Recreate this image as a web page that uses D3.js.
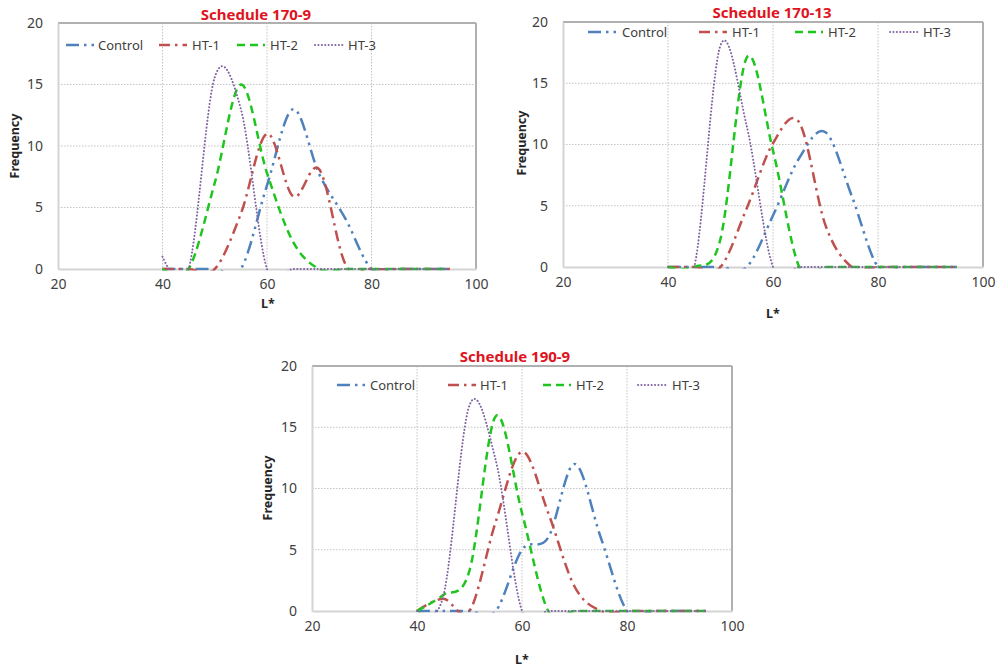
<!DOCTYPE html>
<html>
<head>
<meta charset="utf-8">
<script src="https://cdn.jsdelivr.net/npm/d3@7"></script>
<style>
  body { margin: 0; background: #fff; }
  svg { display: block; font-family: "Noto Sans", "DejaVu Sans", sans-serif; }
</style>
</head>
<body>
<script>
// L* bins (x values shared by all series)
const lValues = [40, 45, 50, 55, 60, 65, 70, 75, 80, 85, 90, 95];

const seriesNames = ['Control', 'HT-1', 'HT-2', 'HT-3'];
const xTicks = [20, 40, 60, 80, 100];
const yTicks = [0, 5, 10, 15, 20];

// Schedule 170-9
const s1709Control = [0, 0, 0, 0, 6.8, 13, 7.7, 4.1, 0, 0, 0, 0];
const s1709HT1 = [0, 0, 0, 4.5, 11, 5.9, 8.1, 0.4, 0, 0, 0, 0];
const s1709HT2 = [0, 0, 7, 15, 7.8, 2.2, 0, 0, 0, 0, 0, 0];
const s1709HT3 = [1, 0, 15.6, 13, 0, 0, 0, 0, 0, 0, 0, 0];

// Schedule 170-13
const s17013Control = [0, 0, 0, 0, 4.2, 8.9, 11, 5.8, 0, 0, 0, 0];
const s17013HT1 = [0, 0, 0, 4.8, 10.1, 11.8, 3.4, 0, 0, 0, 0, 0];
const s17013HT2 = [0, 0, 2.3, 17.1, 9.5, 0, 0, 0, 0, 0, 0, 0];
const s17013HT3 = [0, 0, 18.1, 11.5, 0, 0, 0, 0, 0, 0, 0, 0];

// Schedule 190-9
const s1909Control = [0, 0, 0, 0, 5, 6, 12, 6, 0, 0, 0, 0];
const s1909HT1 = [0, 1, 0, 7.3, 13, 8, 2, 0, 0, 0, 0, 0];
const s1909HT2 = [0, 1.3, 3.3, 15.9, 8, 0, 0, 0, 0, 0, 0, 0];
const s1909HT3 = [0, 1.2, 16.8, 12.3, 0, 0, 0, 0, 0, 0, 0, 0];

// line styles per series
const styles = {
  'Control': { color: '#4f81bd', dash: '13,5,2.5,5,2.5,5', width: 2.5, cap: 'butt' },
  'HT-1':    { color: '#c0504d', dash: '11,5,2.5,5', width: 2.5, cap: 'butt' },
  'HT-2':    { color: '#1ec51e', dash: '8,5', width: 2.5, cap: 'butt' },
  'HT-3':    { color: '#8064a2', dash: '0.1,3.3', width: 2, cap: 'round' }
};

// panel layout
const panels = [
  { title: 'Schedule 170-9', x0: 58, x1: 476, top: 23, bottom: 269,
    titleX: 256, titleY: 20, legY: 45, legX: [66, 159, 237, 315], legTx: [98, 192, 270, 348],
    freqX: 15, freqY: 146, lX: 268, lY: 308,
    data: [s1709Control, s1709HT1, s1709HT2, s1709HT3] },
  { title: 'Schedule 170-13', x0: 563, x1: 983, top: 22, bottom: 267,
    titleX: 772, titleY: 18, legY: 32, legX: [588, 699, 795, 890], legTx: [622, 732, 828, 923],
    freqX: 522, freqY: 143, lX: 773, lY: 318,
    data: [s17013Control, s17013HT1, s17013HT2, s17013HT3] },
  { title: 'Schedule 190-9', x0: 312, x1: 732, top: 366, bottom: 611,
    titleX: 515, titleY: 362, legY: 385, legX: [337, 448, 543, 638], legTx: [370, 480, 576, 672],
    freqX: 268, freqY: 488, lX: 522, lY: 664,
    data: [s1909Control, s1909HT1, s1909HT2, s1909HT3] }
];

const svg = d3.select('body').append('svg')
  .attr('width', 996)
  .attr('height', 668);

panels.forEach((p, pi) => {
  const x = d3.scaleLinear().domain([20, 100]).range([p.x0, p.x1]);
  const y = d3.scaleLinear().domain([0, 20]).range([p.bottom, p.top]);
  const g = svg.append('g');

  // clip so smoothed curves don't dip under the axis
  g.append('clipPath').attr('id', 'clip' + pi)
    .append('rect')
    .attr('x', p.x0).attr('y', p.top - 5)
    .attr('width', p.x1 - p.x0).attr('height', p.bottom - p.top + 6.5);

  // gridlines
  g.selectAll('.vgrid').data([40, 60, 80]).enter().append('line')
    .attr('x1', d => x(d)).attr('x2', d => x(d))
    .attr('y1', p.top).attr('y2', p.bottom)
    .attr('stroke', '#c4c4c4').attr('stroke-width', 1).attr('stroke-dasharray', '1.5,1.5');
  g.selectAll('.hgrid').data([5, 10, 15]).enter().append('line')
    .attr('x1', p.x0).attr('x2', p.x1)
    .attr('y1', d => y(d)).attr('y2', d => y(d))
    .attr('stroke', '#c4c4c4').attr('stroke-width', 1).attr('stroke-dasharray', '1.5,1.5');

  // frame
  g.append('line').attr('x1', p.x0).attr('x2', p.x1).attr('y1', p.top).attr('y2', p.top)
    .attr('stroke', '#b0b0b0').attr('stroke-width', 2);
  g.append('line').attr('x1', p.x1).attr('x2', p.x1).attr('y1', p.top).attr('y2', p.bottom)
    .attr('stroke', '#b0b0b0').attr('stroke-width', 2);

  // axes
  const yAxis = g.append('g')
    .attr('transform', `translate(${p.x0},0)`)
    .call(d3.axisLeft(y).tickValues(yTicks).tickSize(0).tickPadding(15));
  const xAxis = g.append('g')
    .attr('transform', `translate(0,${p.bottom})`)
    .call(d3.axisBottom(x).tickValues(xTicks).tickSize(0).tickPadding(10));
  [yAxis, xAxis].forEach(a => {
    a.select('.domain').attr('stroke', '#d4d4d4').attr('stroke-width', 2);
    a.selectAll('text').attr('fill', '#404040').attr('font-size', 14).attr('font-family', '"Noto Sans", sans-serif');
  });

  // series (Excel-style smoothed lines)
  const line = d3.line()
    .x((d, i) => x(lValues[i]))
    .y(d => y(d))
    .curve(d3.curveCardinal.tension(0));

  const lines = g.append('g').attr('clip-path', `url(#clip${pi})`);
  seriesNames.forEach((name, si) => {
    const st = styles[name];
    lines.append('path')
      .datum(p.data[si])
      .attr('d', line)
      .attr('fill', 'none')
      .attr('stroke', st.color)
      .attr('stroke-width', st.width)
      .attr('stroke-dasharray', st.dash)
      .attr('stroke-linecap', st.cap);
  });

  // legend
  seriesNames.forEach((name, si) => {
    const st = styles[name];
    g.append('line')
      .attr('x1', p.legX[si]).attr('x2', p.legX[si] + 28)
      .attr('y1', p.legY).attr('y2', p.legY)
      .attr('stroke', st.color).attr('stroke-width', st.width)
      .attr('stroke-dasharray', st.dash).attr('stroke-linecap', st.cap);
    g.append('text')
      .attr('x', p.legTx[si]).attr('y', p.legY)
      .attr('dy', '0.35em')
      .attr('font-size', 13)
      .attr('fill', '#404040')
      .text(name);
  });

  // title
  g.append('text')
    .attr('x', p.titleX).attr('y', p.titleY)
    .attr('text-anchor', 'middle')
    .attr('font-size', 15).attr('font-weight', 'bold')
    .attr('fill', '#e0141e')
    .text(p.title);

  // axis titles
  g.append('text')
    .attr('transform', `translate(${p.freqX},${p.freqY})rotate(-90)`)
    .attr('text-anchor', 'middle').attr('dy', '0.35em')
    .attr('font-size', 12.5).attr('font-weight', 'bold').attr('fill', '#262626')
    .text('Frequency');
  g.append('text')
    .attr('x', p.lX).attr('y', p.lY)
    .attr('text-anchor', 'middle')
    .attr('font-size', 12.5).attr('font-weight', 'bold').attr('fill', '#262626')
    .text('L*');
});
</script>
</body>
</html>
